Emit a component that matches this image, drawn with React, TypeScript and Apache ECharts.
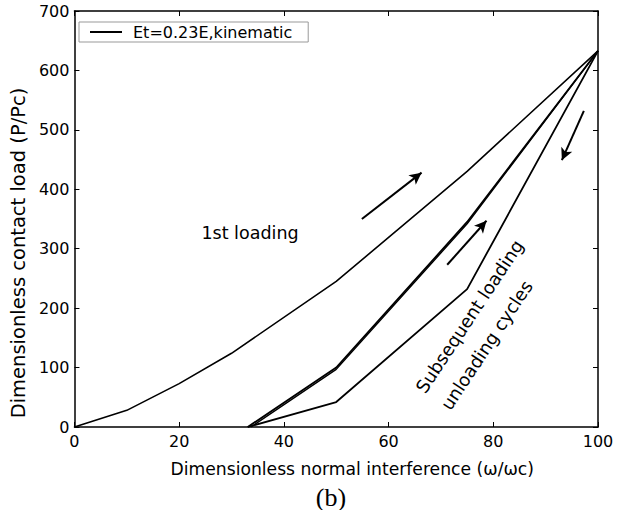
import React, { useEffect, useRef } from "react";
import * as echarts from "echarts";

const firstLoadingX = [0, 10, 20, 30, 50, 75, 100];
const firstLoadingY = [0, 28, 73, 124, 245, 430, 633];
const reloadX = [33.1, 50, 75, 100];
const reloadY = [0, 100, 345, 633];
const reloadBX = [33.7, 50, 75, 100];
const reloadBY = [0, 97, 342, 633];
const unloadX = [33.1, 50, 75, 100];
const unloadY = [0, 42, 232, 633];
const arrows = [
  [[54.9, 350], [66.3, 428]],
  [[71.2, 273], [78.7, 347]],
  [[97.3, 532], [93.1, 449]],
];
const xTicks = [0, 20, 40, 60, 80, 100];
const yTicks = [0, 100, 200, 300, 400, 500, 600, 700];

const FONT = "DejaVu Sans, Verdana, sans-serif";
const zip = (xs: number[], ys: number[]) => xs.map((x, i) => [x, ys[i]]);
const ANG = (56.5 * Math.PI) / 180;

export default function App() {
  const ref = useRef<HTMLDivElement>(null);
  useEffect(() => {
    if (!ref.current) return;
    const chart = echarts.init(ref.current, undefined, { renderer: "svg" });
    const axisCommon = {
      axisLine: { show: true, onZero: false, lineStyle: { color: "#000", width: 1.5 } },
      axisTick: { show: true, inside: true, length: 5, lineStyle: { color: "#000", width: 1 } },
      splitLine: { show: false },
    };
    chart.setOption({
      animation: false,
      backgroundColor: "#fff",
      grid: { left: 73, right: 27, top: 11, bottom: 83, containLabel: false },
      legend: {
        show: true,
        left: 79,
        top: 22,
        orient: "horizontal",
        data: [{ name: "Et=0.23E,kinematic" }],
        icon: "rect",
        itemWidth: 32,
        itemHeight: 2,
        padding: [2, 16, 2, 11],
        borderColor: "#999",
        borderWidth: 1,
        backgroundColor: "#fff",
        textStyle: { fontFamily: FONT, fontSize: 16, color: "#000", padding: [0, 0, 0, 6] },
      },
      xAxis: [
        {
          type: "value",
          min: xTicks[0],
          max: xTicks[xTicks.length - 1],
          interval: 20,
          position: "bottom",
          ...axisCommon,
          axisLabel: { color: "#000", fontFamily: FONT, fontSize: 16, margin: 6 },
          name: "Dimensionless normal interference (\u03c9/\u03c9c)",
          nameLocation: "middle",
          nameGap: 33,
          nameTextStyle: {
            color: "#000",
            fontFamily: FONT,
            fontSize: 17.2,
            padding: [0, 0, 0, 32],
          },
        },
        {
          type: "value",
          min: xTicks[0],
          max: xTicks[xTicks.length - 1],
          interval: 20,
          position: "top",
          ...axisCommon,
          axisLabel: { show: false },
        },
      ],
      yAxis: [
        {
          type: "value",
          min: yTicks[0],
          max: yTicks[yTicks.length - 1],
          interval: 100,
          position: "left",
          ...axisCommon,
          axisLabel: { color: "#000", fontFamily: FONT, fontSize: 16, margin: 5 },
          name: "Dimensionless contact load (P/Pc)",
          nameLocation: "middle",
          nameGap: 43,
          nameTextStyle: {
            color: "#000",
            fontFamily: FONT,
            fontSize: 19.5,
            padding: [0, 68, 0, 0],
          },
        },
        {
          type: "value",
          min: yTicks[0],
          max: yTicks[yTicks.length - 1],
          interval: 100,
          position: "right",
          ...axisCommon,
          axisLabel: { show: false },
        },
      ],
      series: [
        {
          name: "Et=0.23E,kinematic",
          type: "line",
          data: zip(firstLoadingX, firstLoadingY),
          symbol: "none",
          lineStyle: { color: "#000", width: 1.6 },
          itemStyle: { color: "#000" },
          silent: true,
          markLine: {
            silent: true,
            symbol: ["none", "arrow"],
            symbolSize: [9, 12],
            label: { show: false },
            lineStyle: { color: "#000", width: 2, type: "solid" },
            data: arrows.map((a) => [{ coord: a[0] }, { coord: a[1] }]),
          },
        },
        {
          name: "reload",
          type: "line",
          data: zip(reloadX, reloadY),
          symbol: "none",
          lineStyle: { color: "#000", width: 1.8 },
          silent: true,
        },
        {
          name: "reloadB",
          type: "line",
          data: zip(reloadBX, reloadBY),
          symbol: "none",
          lineStyle: { color: "#000", width: 1.4 },
          silent: true,
        },
        {
          name: "unload",
          type: "line",
          data: zip(unloadX, unloadY),
          symbol: "none",
          lineStyle: { color: "#000", width: 1.8 },
          silent: true,
        },
      ],
      graphic: [
        {
          type: "text",
          x: 250,
          y: 233,
          style: {
            text: "1st loading",
            fontFamily: FONT,
            fontSize: 17.5,
            fill: "#000",
            align: "center",
            verticalAlign: "middle",
          },
        },
        {
          type: "text",
          x: 420,
          y: 391,
          rotation: ANG,
          style: {
            text: "Subsequent loading",
            fontFamily: FONT,
            fontSize: 18,
            fill: "#000",
            align: "left",
            verticalAlign: "middle",
          },
        },
        {
          type: "text",
          x: 445,
          y: 408,
          rotation: ANG,
          style: {
            text: "unloading cycles",
            fontFamily: FONT,
            fontSize: 18,
            fill: "#000",
            align: "left",
            verticalAlign: "middle",
          },
        },
        {
          type: "text",
          x: 331,
          y: 497,
          style: {
            text: "(b)",
            fontFamily: "Liberation Serif, DejaVu Serif, serif",
            fontSize: 26,
            fill: "#000",
            align: "center",
            verticalAlign: "middle",
          },
        },
      ],
    });
    return () => chart.dispose();
  }, []);
  return (
    <div
      ref={ref}
      style={{ position: "fixed", left: 0, top: 0, width: 625, height: 510, background: "#fff" }}
    />
  );
}
